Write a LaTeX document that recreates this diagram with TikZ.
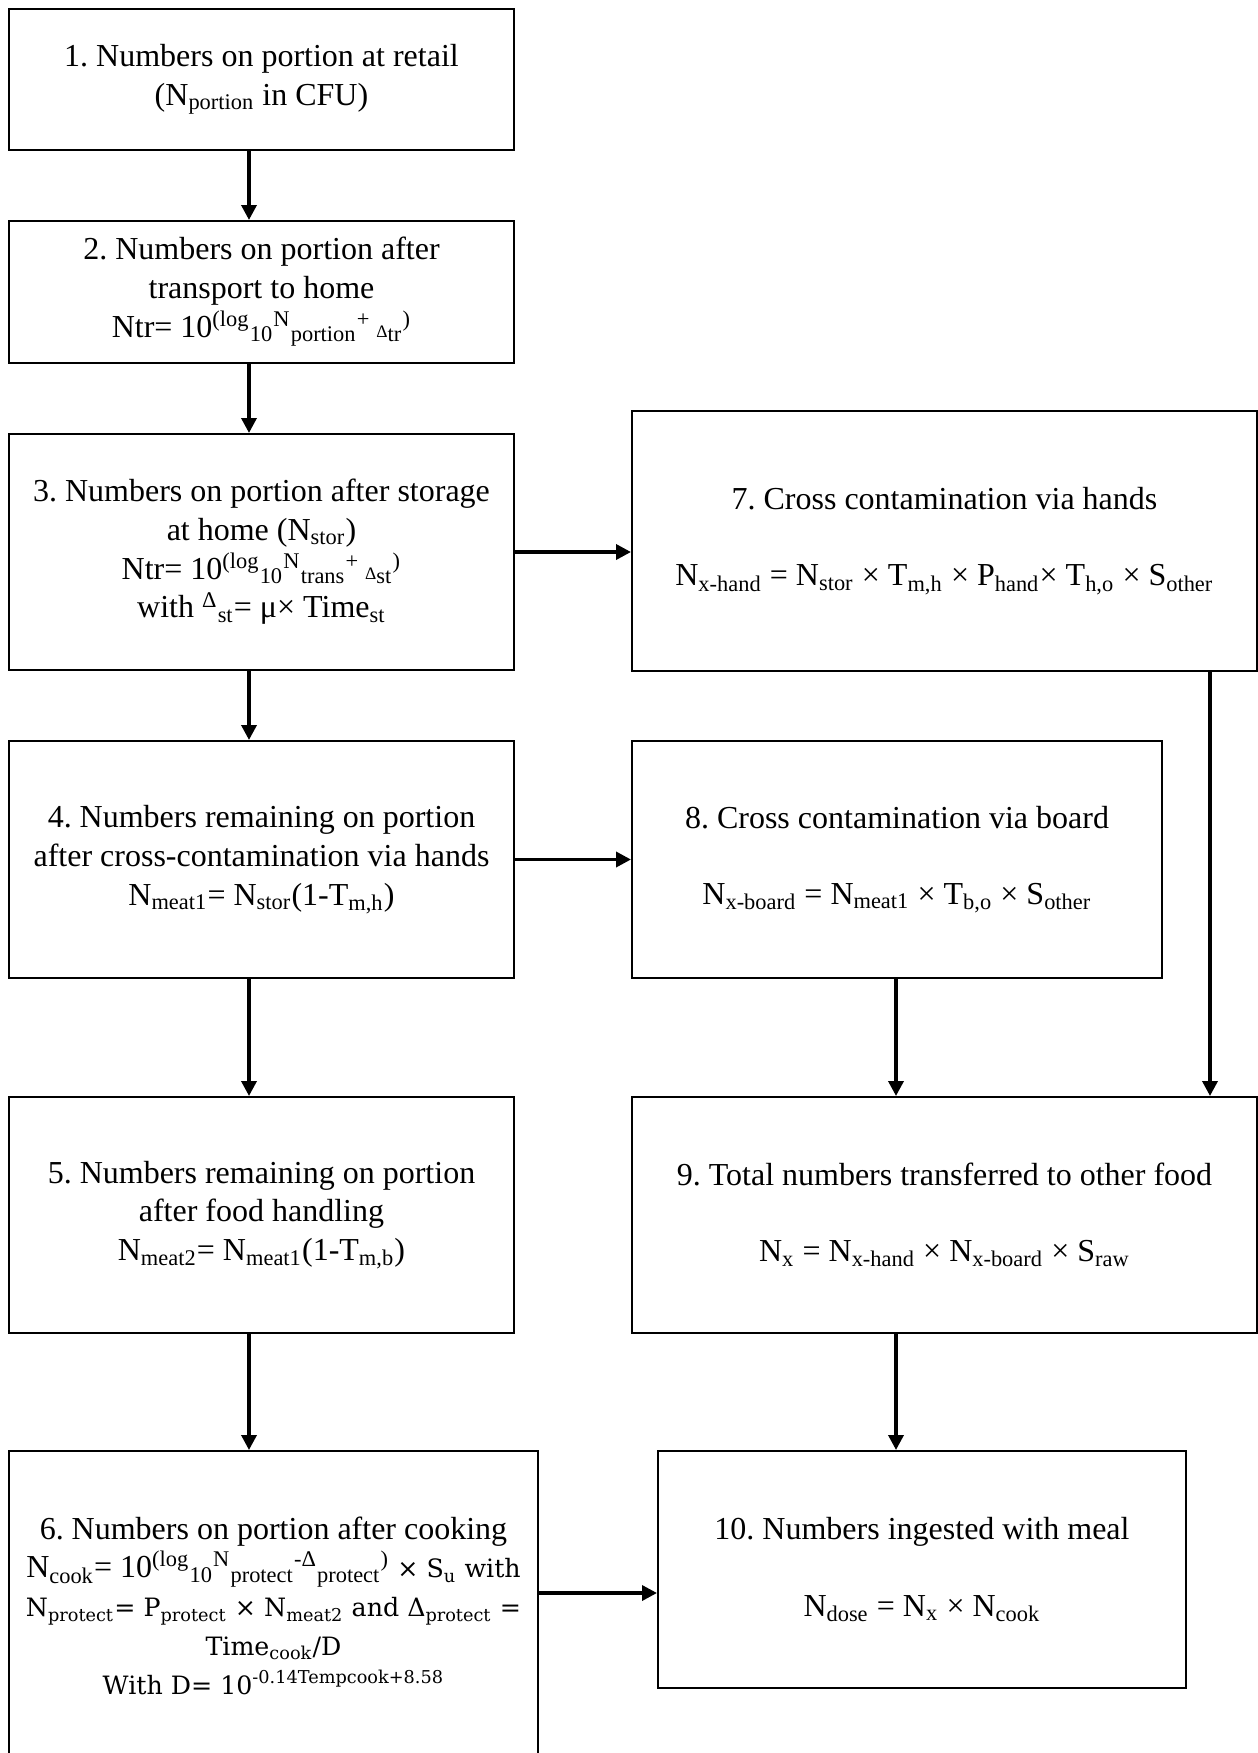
\documentclass[tikz,border=0pt]{standalone}
\usepackage{fontspec}
\setmainfont{Liberation Serif}
\newfontfamily\cambriafont[Scale=0.79]{DejaVu Serif}
\usetikzlibrary{arrows.meta}
\frenchspacing

\begin{document}
\begin{tikzpicture}[font=\fontsize{12.8}{15.5}\selectfont, x=0.4pt, y=-0.4pt,
  box/.style={draw, line width=0.8pt, align=center, inner sep=0pt},
  arr/.style={line width=1.4pt, -{Triangle[length=6pt,width=6pt]}}]

\useasboundingbox (0,0) rectangle (1258,1753);

\node[box, minimum width=202pt, minimum height=56.4pt] (s1) at (261.5,79.5)
  {1. Numbers on portion at retail\\(N\textsubscript{portion} in CFU)};
\node[box, minimum width=202pt, minimum height=56.8pt] (s2) at (261.5,292)
  {2. Numbers on portion after\\transport to home\\
   Ntr= 10\textsuperscript{(log}\textsubscript{10}\textsuperscript{N}\textsubscript{portion}\textsuperscript{+ }{\scriptsize Δ}\textsubscript{tr}\textsuperscript{)}};
\node[box, minimum width=202pt, minimum height=94.4pt] (s3) at (261.5,552)
  {3. Numbers on portion after storage\\at home (N\textsubscript{stor})\\
   Ntr= 10\textsuperscript{(log}\textsubscript{10}\textsuperscript{N}\textsubscript{trans}\textsuperscript{+ }{\scriptsize Δ}\textsubscript{st}\textsuperscript{)}\\
   with \textsuperscript{Δ}\textsubscript{st}= μ× Time\textsubscript{st}};
\node[box, minimum width=202pt, minimum height=94.8pt] (s4) at (261.5,859.5)
  {4. Numbers remaining on portion\\after cross-contamination via hands\\
   N\textsubscript{meat1}= N\textsubscript{stor}(1-T\textsubscript{m,h})};
\node[box, minimum width=202pt, minimum height=94.4pt] (s5) at (261.5,1215)
  {5. Numbers remaining on portion\\after food handling\\
   N\textsubscript{meat2}= N\textsubscript{meat1}(1-T\textsubscript{m,b})};
\node[box, minimum width=211.6pt, minimum height=123.6pt] (s6) at (273.5,1605.5)
  {6. Numbers on portion after cooking\\
   N\textsubscript{cook}= 10\textsuperscript{(log}\textsubscript{10}\textsuperscript{N}\textsubscript{protect}\textsuperscript{-Δ}\textsubscript{protect}\textsuperscript{)} {\cambriafont × S\textsubscript{u} with}\\
   {\cambriafont N\textsubscript{protect}= P\textsubscript{protect} × N\textsubscript{meat2} and Δ\textsubscript{protect} =}\\
   {\cambriafont Time\textsubscript{cook}/D}\\
   {\cambriafont With D= 10\textsuperscript{-0.14Tempcook+8.58}}};

\node[box, minimum width=250pt, minimum height=104pt] (s7) at (944.5,541)
  {7. Cross contamination via hands\\[15pt]
   N\textsubscript{x-hand} = N\textsubscript{stor} × T\textsubscript{m,h} × P\textsubscript{hand}× T\textsubscript{h,o} × S\textsubscript{other}};
\node[box, minimum width=212pt, minimum height=94.8pt] (s8) at (897,859.5)
  {8. Cross contamination via board\\[15pt]
   N\textsubscript{x-board} = N\textsubscript{meat1} × T\textsubscript{b,o} × S\textsubscript{other}};
\node[box, minimum width=250pt, minimum height=94.4pt] (s9) at (944.5,1215)
  {9. Total numbers transferred to other food\\[15pt]
   N\textsubscript{x} = N\textsubscript{x-hand} × N\textsubscript{x-board} × S\textsubscript{raw}};
\node[box, minimum width=211.2pt, minimum height=94.8pt] (s10) at (922,1569.5)
  {10. Numbers ingested with meal\\[15pt]
   N\textsubscript{dose} = N\textsubscript{x} × N\textsubscript{cook}};

\coordinate (c1) at (249,0);
\coordinate (c2) at (896,0);
\coordinate (c3) at (1210,0);
\coordinate (r6) at (0,1593);

\begin{scope}[arr]
\foreach \a/\b in {s1/s2,s2/s3,s3/s4,s4/s5,s5/s6}
\draw (\a.south -| c1)--(\b.north -| c1);
\draw (s3.east)--(s3.east -| s7.west);
\draw (s4.east)--(s8.west);
\draw (s8.south -| c2)--(s9.north -| c2);
\draw (s7.south -| c3)--(s9.north -| c3);
\draw (s9.south -| c2)--(s10.north -| c2);
\draw (s6.east |- r6)--(s10.west |- r6);
\end{scope}
\end{tikzpicture}
\end{document}
